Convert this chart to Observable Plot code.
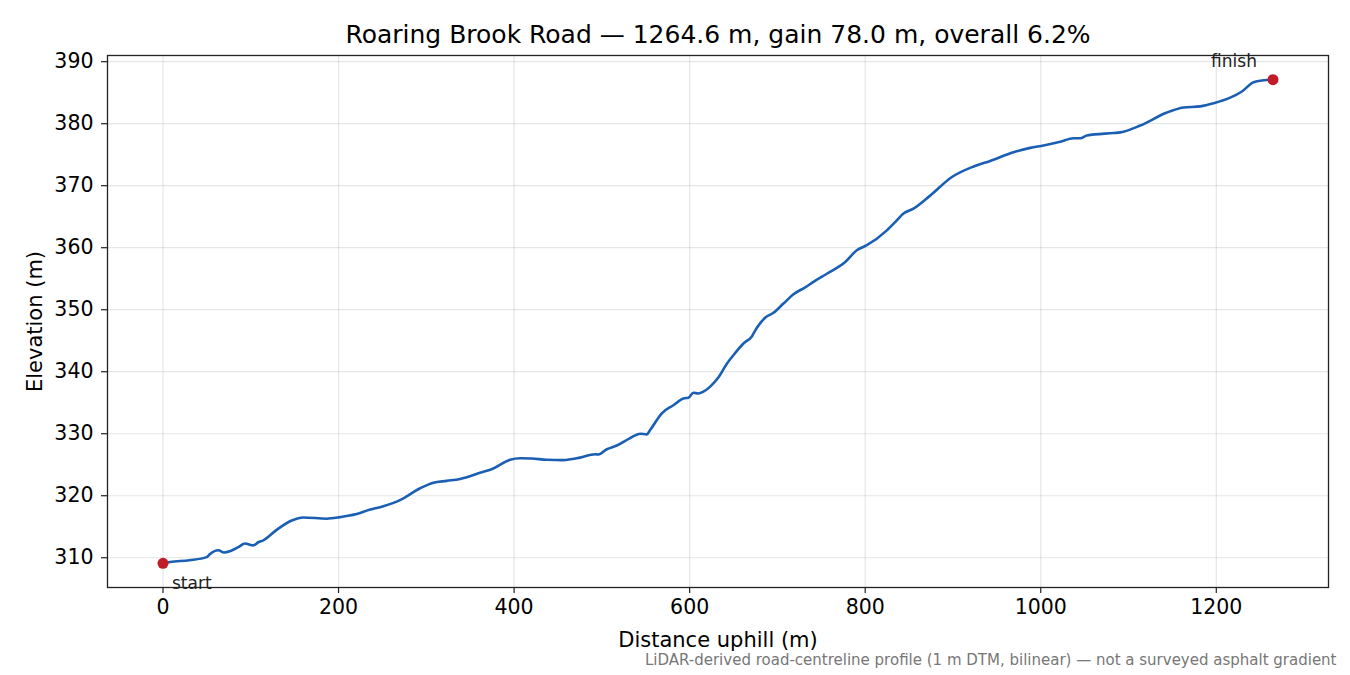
<!DOCTYPE html>
<html>
<head>
<meta charset="utf-8">
<script src="https://cdn.jsdelivr.net/npm/d3@7"></script>
<script src="https://cdn.jsdelivr.net/npm/@observablehq/plot@0.6"></script>
<style>
  html, body { margin: 0; padding: 0; background: #fff; }
  #chart { width: 1350px; height: 675px; }
</style>
</head>
<body>
<div id="chart"></div>
<script>
const titleText = "Roaring Brook Road — 1264.6 m, gain 78.0 m, overall 6.2%";
const xLabel = "Distance uphill (m)";
const yLabel = "Elevation (m)";
const captionText = "LiDAR-derived road-centreline profile (1 m DTM, bilinear) — not a surveyed asphalt gradient";

const distance = [0, 8, 30, 49.8, 53.6, 63, 69.5, 77, 85.8, 93.4, 102.9, 108.6, 114.3, 129.5, 146.7, 159.9, 186.5, 201.7, 224.5, 232, 251, 270, 292.9, 308, 323.3, 338.5, 361.3, 376.4, 395.4, 406.8, 420, 437.3, 456.2, 475.2, 492.3, 496, 505.6, 517, 532.2, 543.6, 551.2, 555, 568.3, 581.5, 593, 598.6, 604.3, 610, 615.7, 623.4, 632.9, 642.4, 650, 661.3, 670.9, 676.6, 686, 695.5, 706.9, 718.3, 731.6, 741.1, 756.3, 777.2, 790.5, 801.9, 824.7, 836, 843.6, 855, 874, 898.8, 923.5, 942.4, 969, 988, 1003.2, 1022.2, 1037.4, 1045, 1052.6, 1083, 1090.6, 1113.4, 1143.8, 1162.7, 1181.7, 1196.9, 1215.9, 1229.2, 1242.5, 1253.9, 1264.6];
const elevation = [309.1, 309.3, 309.6, 310.1, 310.6, 311.2, 310.85, 311.1, 311.7, 312.3, 312.0, 312.5, 312.8, 314.5, 316.0, 316.5, 316.3, 316.55, 317.2, 317.6, 318.3, 319.3, 321.2, 322.1, 322.4, 322.7, 323.7, 324.4, 325.8, 326.05, 326.0, 325.8, 325.75, 326.15, 326.7, 326.65, 327.5, 328.1, 329.3, 330.0, 329.9, 330.6, 333.3, 334.6, 335.7, 335.8, 336.6, 336.5, 336.8, 337.6, 339.1, 341.3, 342.7, 344.55, 345.7, 347.1, 348.7, 349.5, 351.0, 352.5, 353.6, 354.5, 355.8, 357.7, 359.6, 360.4, 362.8, 364.4, 365.5, 366.3, 368.4, 371.4, 373.1, 374.0, 375.4, 376.1, 376.5, 377.1, 377.65, 377.65, 378.1, 378.5, 378.6, 379.7, 381.8, 382.6, 382.8, 383.3, 384.2, 385.2, 386.7, 387.0, 387.1];
const xTicks = [0, 200, 400, 600, 800, 1000, 1200];
const yTicks = [310, 320, 330, 340, 350, 360, 370, 380, 390];
const endpointLabels = ["start", "finish"];

const profile = distance.map((d, i) => ({d, e: elevation[i]}));
const startPt = [profile[0]];
const finishPt = [profile[profile.length - 1]];
const dMax = distance[distance.length - 1];
const eMin = d3.min(elevation), eMax = d3.max(elevation);
const xPad = dMax * 0.05, yPad = (eMax - eMin) * 0.05;

const font = "DejaVu Sans, sans-serif";

const chart = Plot.plot({
  width: 1350,
  height: 675,
  marginLeft: 107,
  marginRight: 22,
  marginTop: 55,
  marginBottom: 88,
  style: {fontFamily: font, fontSize: "20px", color: "#000", background: "#fff"},
  x: {domain: [-xPad, dMax + xPad], ticks: xTicks},
  y: {domain: [eMin - yPad, eMax + yPad], ticks: yTicks},
  marks: [
    Plot.ruleX(xTicks, {stroke: "#b0b0b0", strokeOpacity: 0.32, strokeWidth: 1.2}),
    Plot.ruleY(yTicks, {stroke: "#b0b0b0", strokeOpacity: 0.32, strokeWidth: 1.2}),
    Plot.axisX({ticks: xTicks, tickSize: 6, tickPadding: 6, label: null, fontSize: 20.5, tickFormat: d3.format("d"), stroke: "#222", strokeWidth: 1.2}),
    Plot.axisY({ticks: yTicks, tickSize: 6, tickPadding: 8, label: null, fontSize: 20.5, tickFormat: d3.format("d"), stroke: "#222", strokeWidth: 1.2}),
    Plot.line(profile, {x: "d", y: "e", stroke: "#1a5fb4", strokeWidth: 2.6, strokeLinejoin: "round", strokeLinecap: "round", curve: "monotone-x"}),
    Plot.dot(startPt, {x: "d", y: "e", r: 5.5, fill: "#c01c28"}),
    Plot.dot(finishPt, {x: "d", y: "e", r: 5.5, fill: "#c01c28"}),
    Plot.text(startPt, {x: "d", y: "e", text: () => endpointLabels[0], dx: 9, dy: 20, textAnchor: "start", fontSize: 17, fill: "#222"}),
    Plot.text(finishPt, {x: "d", y: "e", text: () => endpointLabels[1], dx: -39, dy: -18, textAnchor: "middle", fontSize: 17, fill: "#222"}),
    Plot.frame({stroke: "#222", strokeWidth: 1.3}),
    Plot.text([titleText], {frameAnchor: "top", lineAnchor: "middle", dy: -21, fontSize: 25, fill: "#000"}),
    Plot.text([xLabel], {frameAnchor: "bottom", lineAnchor: "middle", dy: 53, fontSize: 21, fill: "#000"}),
    Plot.text([yLabel], {frameAnchor: "left", textAnchor: "middle", lineAnchor: "middle", dx: -72, rotate: -90, fontSize: 21, fill: "#000"}),
    Plot.text([captionText], {frameAnchor: "bottom-right", lineAnchor: "middle", dx: 8, dy: 73, textAnchor: "end", fontSize: 15, fill: "#777"})
  ]
});
document.getElementById("chart").appendChild(chart);
</script>
</body>
</html>
